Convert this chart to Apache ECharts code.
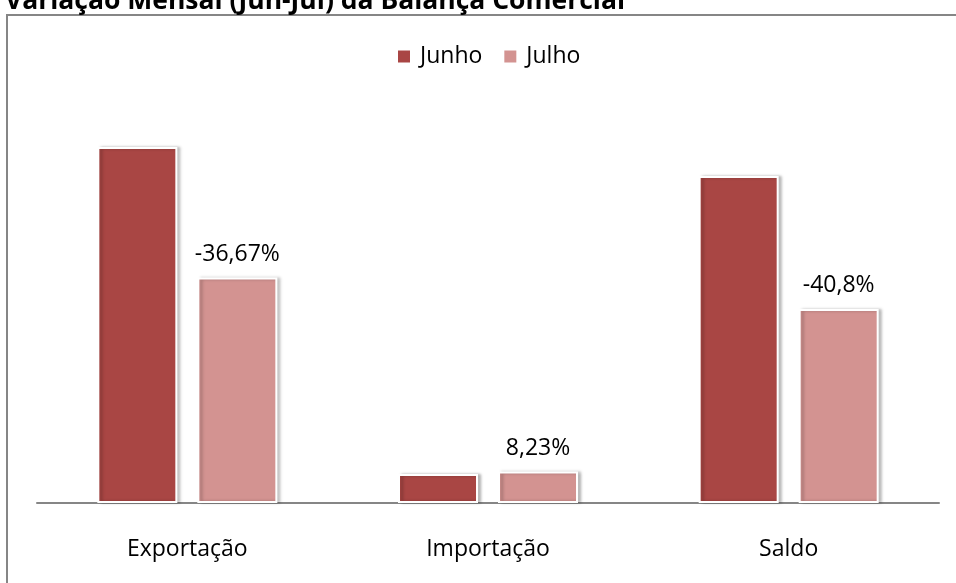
<!DOCTYPE html>
<html>
<head>
<meta charset="utf-8">
<script src="https://cdn.jsdelivr.net/npm/echarts@6/dist/echarts.min.js"></script>
<style>
html,body{margin:0;padding:0;background:#fff;}
#chart{width:956px;height:583px;}
</style>
</head>
<body>
<div id="chart"></div>
<script>
const categories = ['Exportação', 'Importação', 'Saldo'];
const seriesNames = ['Junho', 'Julho'];
const junho = [3560, 290, 3270];
const julho = [2255, 314, 1941];
const variacaoLabels = ['-36,67%', '8,23%', '-40,8%'];

const chart = echarts.init(document.getElementById('chart'));
const FONT = 'Open Sans';
const barStyle = (color) => ({
  color: color,
  borderColor: '#ffffff',
  borderWidth: 2,
  shadowColor: 'rgba(0,0,0,0.25)',
  shadowBlur: 3,
  shadowOffsetX: 3,
  shadowOffsetY: 0
});
chart.setOption({
  animation: false,
  title: {
    text: 'Variação Mensal (Jun-Jul) da Balança Comercial',
    left: 0,
    top: -17,
    textStyle: { fontFamily: FONT, fontWeight: 'bold', fontSize: 26.5, color: '#000' }
  },
  graphic: [{
    type: 'rect',
    shape: { x: 7, y: 15, width: 980, height: 620 },
    style: { fill: 'none', stroke: '#868686', lineWidth: 2 },
    z: -1
  }],
  legend: {
    top: 40,
    left: 396,
    padding: [5, 0, 5, 0],
    itemWidth: 14,
    itemHeight: 14,
    itemGap: 20,
    textStyle: { fontFamily: FONT, fontSize: 23, color: '#000', padding: [0, 0, 0, 4] },
    data: seriesNames.map(n => ({ name: n, icon: 'rect' }))
  },
  grid: { left: 37, right: 17, top: 103, bottom: 80, containLabel: false },
  xAxis: {
    type: 'category',
    data: categories,
    axisLine: { lineStyle: { color: '#868686', width: 2 } },
    axisTick: { show: false },
    axisLabel: { fontFamily: FONT, fontSize: 23, color: '#000', margin: 35 }
  },
  yAxis: {
    type: 'value', min: 0, max: 4000,
    show: false, splitLine: { show: false }
  },
  series: [
    {
      name: seriesNames[0], type: 'bar', data: junho,
      barWidth: 80, barGap: '25%',
      itemStyle: barStyle('#A94644')
    },
    {
      name: seriesNames[1], type: 'bar', data: julho,
      barWidth: 80,
      itemStyle: barStyle('#D39391'),
      label: {
        show: true, position: 'top', distance: 12,
        fontFamily: FONT, fontSize: 23, color: '#000',
        formatter: p => variacaoLabels[p.dataIndex]
      }
    }
  ]
});
</script>
</body>
</html>
